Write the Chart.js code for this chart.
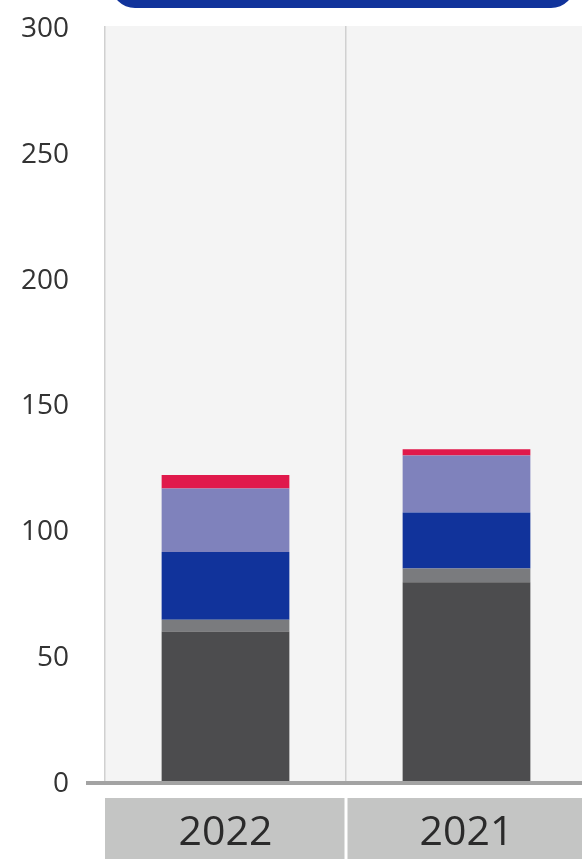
<!DOCTYPE html>
<html>
<head>
<meta charset="utf-8">
<script src="https://cdn.jsdelivr.net/npm/chart.js@4/dist/chart.umd.min.js"></script>
<style>
  html, body { margin: 0; padding: 0; background: #ffffff; }
  #wrap { width: 582px; height: 859px; overflow: hidden; position: relative; }
  canvas { display: block; }
</style>
</head>
<body>
<div id="wrap"><canvas id="stackChart" width="600" height="859"></canvas></div>
<script>
// values, bottom segment first
const years = ['2022', '2021'];
const segA = [59.4, 79.0];
const segB = [4.7, 5.4];
const segC = [26.9, 22.3];
const segD = [25.2, 22.6];
const segE = [5.4, 2.5];
const yTicks = [0, 50, 100, 150, 200, 250, 300];

const segColors = ['#4c4c4e', '#7a7b7e', '#11339b', '#7f82bc', '#e0194b'];

// plot background, top badge and the grey boxes under the year labels
const decor = {
  id: 'decor',
  beforeDraw(chart) {
    const { ctx, chartArea: a, scales } = chart;
    ctx.save();
    ctx.fillStyle = '#f4f4f4';
    ctx.fillRect(a.left, a.top, a.right - a.left, a.bottom - a.top);

    ctx.fillStyle = '#11339b';
    ctx.beginPath();
    ctx.roundRect(111, -50, 464, 58, 24);
    ctx.fill();

    const x = scales.x;
    const half = (a.right - a.left) / years.length / 2;
    ctx.fillStyle = '#c4c5c4';
    years.forEach((y, i) => {
      const cx = x.getPixelForTick(i);
      const l = cx - half + (i ? 1.5 : 0);
      const r = cx + half - 1.5;
      ctx.fillRect(l, 798, r - l, 70);
    });
    ctx.restore();
  },
  afterDatasetsDraw(chart) {
    const { ctx, chartArea: a } = chart;
    ctx.save();
    ctx.strokeStyle = '#a3a3a3';
    ctx.lineWidth = 4;
    ctx.beginPath();
    ctx.moveTo(86, a.bottom + 2);
    ctx.lineTo(chart.width, a.bottom + 2);
    ctx.stroke();
    ctx.restore();
  }
};

const ctx = document.getElementById('stackChart').getContext('2d');
new Chart(ctx, {
  type: 'bar',
  data: {
    labels: years,
    datasets: [
      { label: 'Segment 1', data: segA },
      { label: 'Segment 2', data: segB },
      { label: 'Segment 3', data: segC },
      { label: 'Segment 4', data: segD },
      { label: 'Segment 5', data: segE }
    ].map((d, i) => Object.assign(d, {
      backgroundColor: segColors[i],
      borderWidth: 0,
      categoryPercentage: 1,
      barPercentage: 0.53
    }))
  },
  options: {
    responsive: false,
    animation: false,
    layout: { padding: { top: 26, right: 13, left: 0, bottom: 0 } },
    plugins: {
      legend: { display: false },
      tooltip: { enabled: false }
    },
    scales: {
      x: {
        stacked: true,
        grid: { color: '#d0d0d0', lineWidth: 1.5, drawTicks: false, offset: true },
        border: { display: false },
        ticks: {
          color: '#2a2a2a',
          padding: 28,
          font: { family: 'Open Sans', size: 41 }
        },
        afterFit(scale) { scale.height = 78; }
      },
      y: {
        stacked: true,
        min: 0,
        max: 300,
        afterBuildTicks(scale) { scale.ticks = yTicks.map(v => ({ value: v })); },
        grid: { display: false, drawTicks: false },
        border: { display: false },
        ticks: {
          color: '#333333',
          padding: 36,
          labelOffset: 3,
          font: { family: 'Open Sans', size: 28 }
        },
        afterFit(scale) {
          scale.width = 105;
          scale.paddingTop = 0;
          scale.paddingBottom = 0;
        }
      }
    }
  },
  plugins: [decor]
});
</script>
</body>
</html>
